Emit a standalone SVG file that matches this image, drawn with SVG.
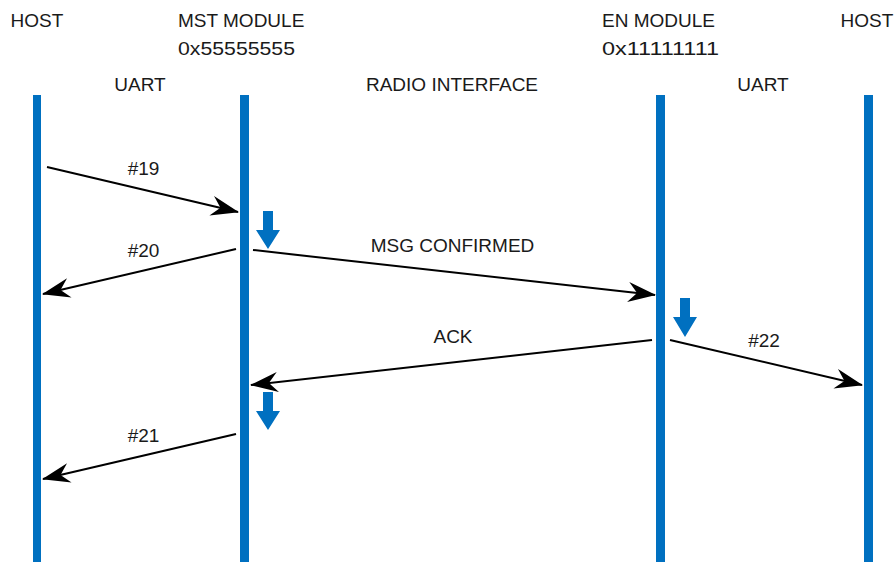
<svg xmlns="http://www.w3.org/2000/svg" width="896" height="562" viewBox="0 0 896 562">
<style>
text{font-family:"Liberation Sans",Arial,sans-serif;font-size:19px;fill:#1a1a1a}
.life{fill:#0070C0}
.msg{stroke:#000;stroke-width:2;fill:none;marker-end:url(#ah)}
.blue{fill:#0070C0}
</style>
<defs>
<marker id="ah" viewBox="0 0 28 20" refX="27" refY="10" markerWidth="28" markerHeight="20" markerUnits="userSpaceOnUse" orient="auto">
<path d="M0,0 L28,10 L0,20 L9,10 Z" fill="#000"/>
</marker>
</defs>
<rect width="896" height="562" fill="#fff"/>
<g id="host-left">
<text x="37" y="27" text-anchor="middle">HOST</text>
<rect class="life" x="33" y="95" width="8" height="467"/>
</g>
<g id="mst-module">
<text x="178" y="27">MST MODULE</text>
<text x="178" y="55" textLength="117" lengthAdjust="spacingAndGlyphs">0x55555555</text>
<rect class="life" x="240" y="95" width="9" height="467"/>
</g>
<g id="en-module">
<text x="602" y="27">EN MODULE</text>
<text x="602" y="55" textLength="117" lengthAdjust="spacingAndGlyphs">0x11111111</text>
<rect class="life" x="656" y="95" width="9" height="467"/>
</g>
<g id="host-right">
<text x="867" y="27" text-anchor="middle">HOST</text>
<rect class="life" x="864" y="95" width="9" height="467"/>
</g>
<g id="interfaces">
<text x="140" y="91" text-anchor="middle">UART</text>
<text x="452" y="91" text-anchor="middle">RADIO INTERFACE</text>
<text x="763" y="91" text-anchor="middle">UART</text>
</g>
<g id="connectors">
<path class="msg" d="M47,167 L238,212"/>
<text x="143.5" y="175" text-anchor="middle">#19</text>
<path class="msg" d="M236,249 L43,294"/>
<text x="143.5" y="257" text-anchor="middle">#20</text>
<path class="msg" d="M253,250 L655,295"/>
<text x="452.5" y="252" text-anchor="middle">MSG CONFIRMED</text>
<path class="msg" d="M652,340 L251,385"/>
<text x="453" y="343" text-anchor="middle">ACK</text>
<path class="msg" d="M670,340 L862,385"/>
<text x="764" y="347" text-anchor="middle">#22</text>
<path class="msg" d="M236,434 L43,479"/>
<text x="143.5" y="442" text-anchor="middle">#21</text>
</g>
<g id="processing-markers">
<path class="blue" d="M263,211 H273 V230 H280 L268,249 L256,230 H263 Z"/>
<path class="blue" d="M680,298 H690 V317 H697 L685,337 L673,317 H680 Z"/>
<path class="blue" d="M263,392 H273 V411 H280 L268,430 L256,411 H263 Z"/>
</g>
</svg>
